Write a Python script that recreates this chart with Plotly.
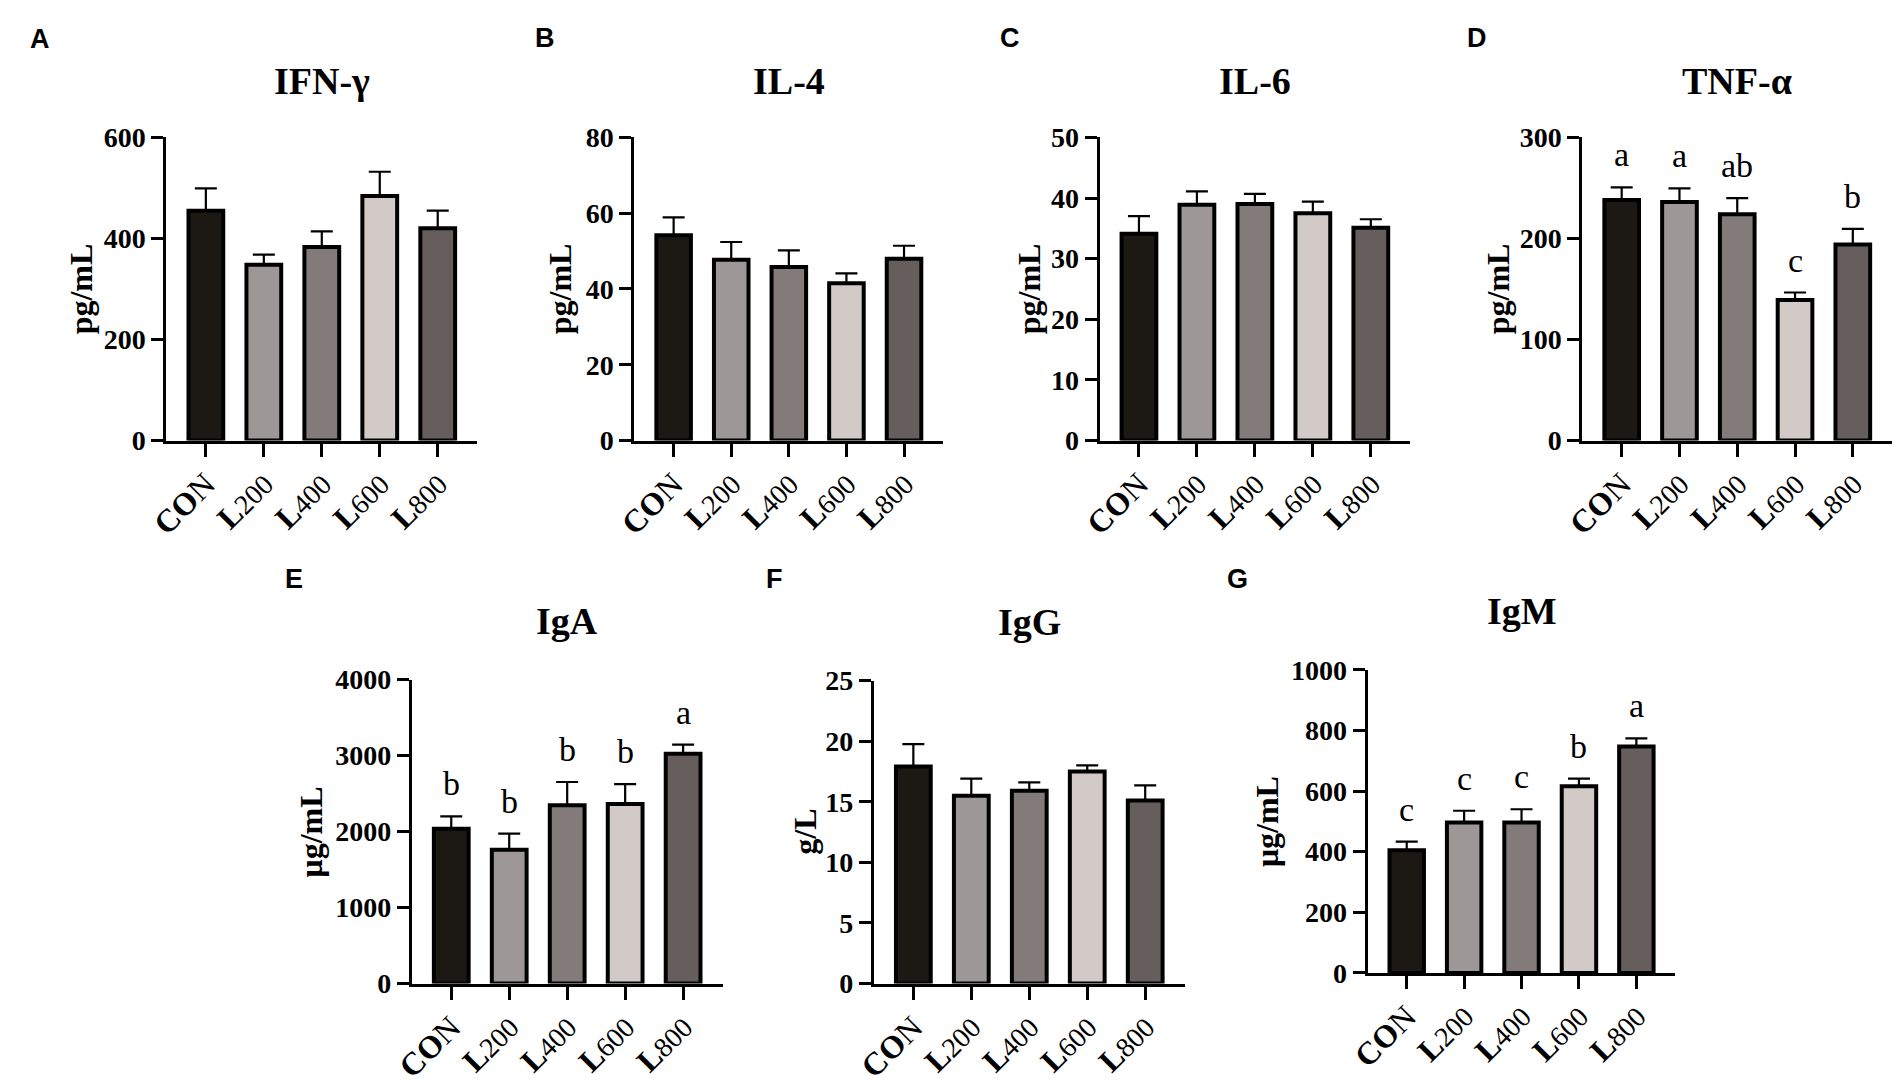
import plotly.graph_objects as go

W, H = 1902, 1089

groups = ["CON", "L200", "L400", "L600", "L800"]
tick_text = [
    "<b>CO</b>N",
    "<b>L</b><span style='font-size:28px'>200</span>",
    "<b>L</b><span style='font-size:28px'>400</span>",
    "<b>L</b><span style='font-size:28px'>600</span>",
    "<b>L</b><span style='font-size:28px'>800</span>",
]
colors = ["#1c1915", "#9e9797", "#837a7a", "#d1cac7", "#665e5c"]

# Panel A: IFN-gamma (pg/mL)
ifn_mean = [455, 348, 383, 484, 420]
ifn_err = [44, 20, 31, 48, 35]
# Panel B: IL-4 (pg/mL)
il4_mean = [54.2, 47.7, 45.8, 41.5, 48.0]
il4_err = [4.7, 4.7, 4.4, 2.6, 3.4]
# Panel C: IL-6 (pg/mL)
il6_mean = [34.1, 38.9, 39.0, 37.5, 35.1]
il6_err = [2.9, 2.2, 1.7, 1.9, 1.4]
# Panel D: TNF-alpha (pg/mL)
tnf_mean = [238, 236, 224, 139, 194]
tnf_err = [12.5, 13.5, 16, 7.5, 15.5]
tnf_sig = ["a", "a", "ab", "c", "b"]
# Panel E: IgA (ug/mL)
iga_mean = [2038, 1761, 2345, 2362, 3023]
iga_err = [162, 213, 307, 261, 120]
iga_sig = ["b", "b", "b", "b", "a"]
# Panel F: IgG (g/L)
igg_mean = [17.9, 15.5, 15.9, 17.5, 15.1]
igg_err = [1.85, 1.4, 0.7, 0.5, 1.25]
# Panel G: IgM (ug/mL)
igm_mean = [405, 496, 496, 616, 747]
igm_err = [28, 39, 44, 25, 27]
igm_sig = ["c", "c", "c", "b", "a"]

panels = [
    dict(lab="A", title="IFN-γ", ytitle="pg/mL", mean=ifn_mean, err=ifn_err, sig=None,
         ymax=600, dtick=200, box=(148, 462, 126, 438), labpos=(20, 25), ytx=62, tty=68),
    dict(lab="B", title="IL-4", ytitle="pg/mL", mean=il4_mean, err=il4_err, sig=None,
         ymax=80, dtick=20, box=(621, 933, 126, 438), labpos=(531, 24), ytx=546, tty=68),
    dict(lab="C", title="IL-6", ytitle="pg/mL", mean=il6_mean, err=il6_err, sig=None,
         ymax=50, dtick=10, box=(1091, 1405, 126, 438), labpos=(1001, 24), ytx=1020, tty=68),
    dict(lab="D", title="TNF-α", ytitle="pg/mL", mean=tnf_mean, err=tnf_err, sig=tnf_sig,
         ymax=300, dtick=100, box=(1579, 1892, 126, 438), labpos=(1472, 24), ytx=1494, tty=68),
    dict(lab="E", title="IgA", ytitle="μg/mL", mean=iga_mean, err=iga_err, sig=iga_sig,
         ymax=4000, dtick=1000, box=(396, 710, 684, 997), labpos=(277, 581), ytx=294, tty=624),
    dict(lab="F", title="IgG", ytitle="g/L", mean=igg_mean, err=igg_err, sig=None,
         ymax=25, dtick=5, box=(863, 1177, 685, 997), labpos=(763, 581), ytx=793, tty=625),
    dict(lab="G", title="IgM", ytitle="μg/mL", mean=igm_mean, err=igm_err, sig=igm_sig,
         ymax=1000, dtick=200, box=(1362, 1673, 674, 986), labpos=(1230, 581), ytx=1261, tty=613),
]

SERIF = "Liberation Serif"
SANS = "Liberation Sans"

fig = go.Figure()
layout = dict(
    width=W, height=H, margin=dict(l=0, r=0, t=0, b=0),
    paper_bgcolor="white", plot_bgcolor="white", showlegend=False,
)
annotations = []
xs = list(range(len(groups)))

for i, p in enumerate(panels, start=1):
    xa = "x" if i == 1 else f"x{i}"
    ya = "y" if i == 1 else f"y{i}"
    x0, x1, yt, yb = p["box"]
    fig.add_trace(go.Bar(
        x=xs, y=p["mean"], xaxis=xa, yaxis=ya, width=0.6,
        marker=dict(color=colors, line=dict(color="black", width=4)),
        error_y=dict(type="data", array=p["err"], arrayminus=[0] * 5, symmetric=False,
                     color="black", thickness=2.2, width=11),
        hoverinfo="skip",
    ))
    layout["xaxis" if i == 1 else f"xaxis{i}"] = dict(
        domain=[x0 / W, x1 / W], anchor=ya, range=[-0.68, 4.68],
        tickvals=xs, ticktext=tick_text, tickangle=-45,
        tickfont=dict(family=SERIF, size=32, color="black"),
        ticklabelstandoff=-4,
        showline=True, linecolor="black", linewidth=3,
        ticks="outside", ticklen=13, tickwidth=3, tickcolor="black",
        showgrid=False, zeroline=False, fixedrange=True,
    )
    layout["yaxis" if i == 1 else f"yaxis{i}"] = dict(
        domain=[1 - yb / H, 1 - yt / H], anchor=xa, range=[0, p["ymax"]],
        dtick=p["dtick"], tick0=0,
        tickfont=dict(family=SERIF, size=28, color="black", weight="bold"),
        showline=True, linecolor="black", linewidth=3,
        ticks="outside", ticklen=12, tickwidth=3, tickcolor="black",
        showgrid=False, zeroline=False, fixedrange=True,
    )
    annotations.append(dict(
        text=p["lab"], x=p["labpos"][0] / W, y=1 - p["labpos"][1] / H, xref="paper", yref="paper",
        xanchor="center", yanchor="middle", showarrow=False,
        font=dict(family=SANS, size=27, color="black", weight="bold"),
    ))
    annotations.append(dict(
        text=p["title"], x=(x0 + x1) / 2 / W, y=1 - p["tty"] / H, xref="paper", yref="paper",
        xanchor="center", yanchor="middle", showarrow=False,
        font=dict(family=SERIF, size=38, color="black", weight="bold"),
    ))
    annotations.append(dict(
        text=p["ytitle"], x=p["ytx"] / W, y=1 - (yt + yb) / 2 / H, xref="paper", yref="paper",
        xanchor="center", yanchor="middle", textangle=-90, showarrow=False,
        font=dict(family=SERIF, size=32, color="black", weight="bold"),
    ))
    if p["sig"]:
        for k, s in enumerate(p["sig"]):
            annotations.append(dict(
                text=s, x=xs[k], y=p["mean"][k] + p["err"][k], xref=xa, yref=ya,
                xanchor="center", yanchor="bottom", yshift=12, showarrow=False,
                font=dict(family=SERIF, size=34, color="black"),
            ))

layout["annotations"] = annotations
fig.update_layout(**layout)
fig.write_html(
    "out.html",
    config={"displayModeBar": False, "staticPlot": True},
    post_script="document.body.style.margin='0px';document.body.style.overflow='hidden';",
)
